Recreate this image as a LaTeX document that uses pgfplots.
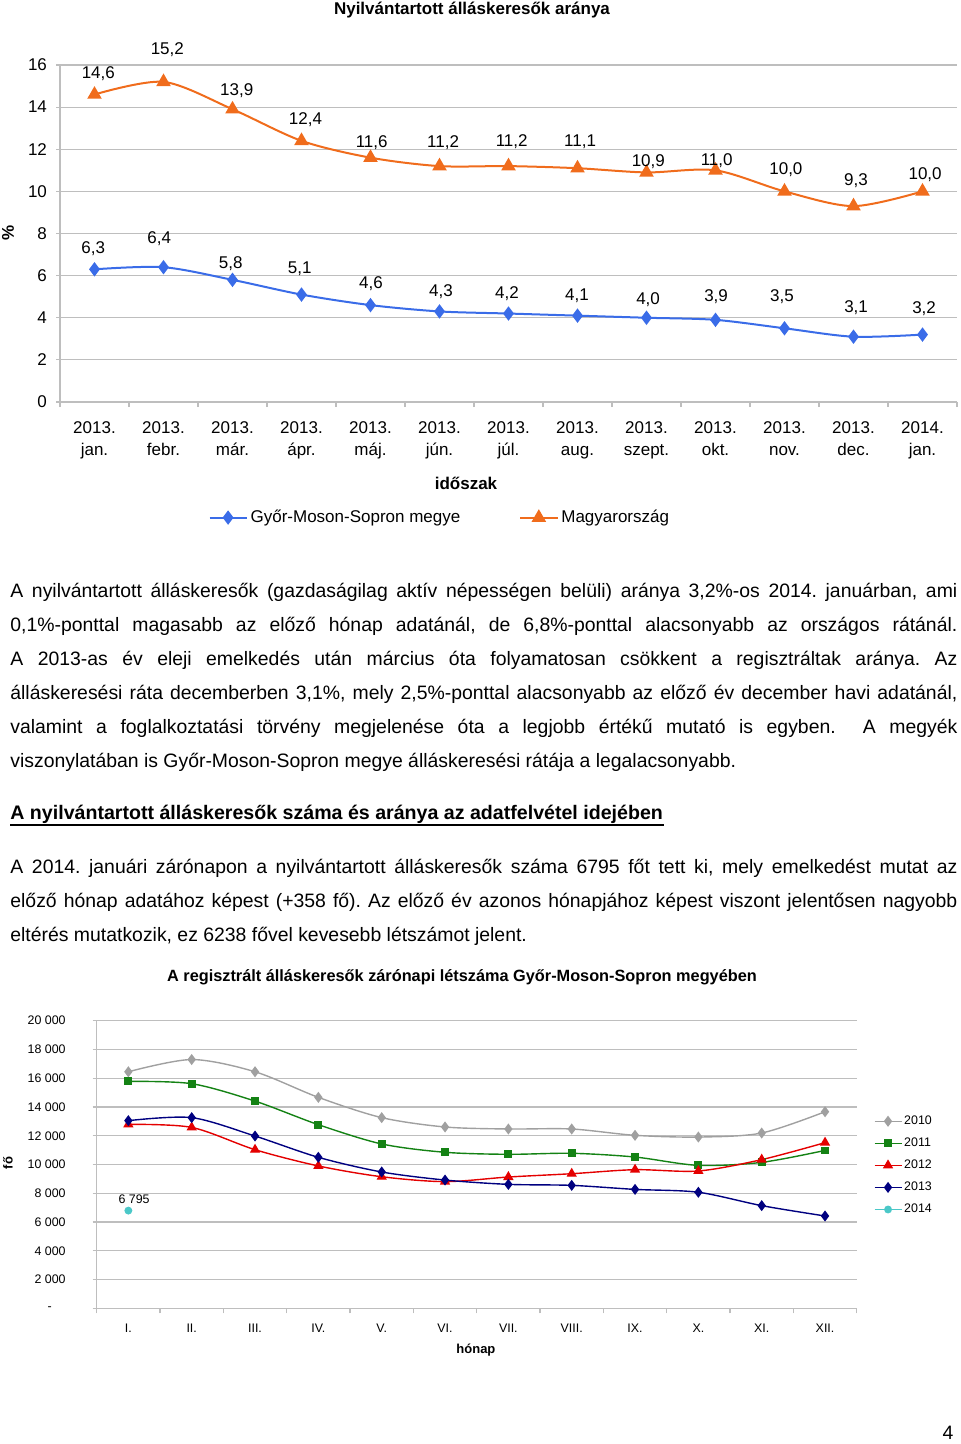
\documentclass[border=0pt]{standalone}
\usepackage{fontspec}
\setmainfont{Liberation Sans}
\usepackage{pgfplots}
\pgfplotsset{compat=1.18}
\usepackage{pgfplotstable}
\frenchspacing
\definecolor{gblue}{RGB}{58,108,232}
\definecolor{horange}{RGB}{240,108,28}
\definecolor{gridgray}{RGB}{190,190,190}
\definecolor{c10}{RGB}{160,160,160}
\definecolor{c11}{RGB}{20,130,20}
\definecolor{c12}{RGB}{228,0,0}
\definecolor{c13}{RGB}{0,0,128}
\definecolor{c14}{RGB}{75,200,200}

\pgfplotstableread{
x y dy dx lbl
0 6.3 10.5 -0.6 6,3
1 6.4 14.1 -2.1 6,4
2 5.8 8.3 -0.9 5,8
3 5.1 12.7 -0.9 5,1
4 4.6 10.9 0.2 4,6
5 4.3 9.9 0.7 4,3
6 4.2 9.8 -0.8 4,2
7 4.1 9.9 -0.3 4,1
8 4.0 8.9 0.8 4,0
9 3.9 11.5 0.3 3,9
10 3.5 15.7 -1.3 3,5
11 3.1 14.4 1.3 3,1
12 3.2 12.8 0.8 3,2
}\tabGY

\pgfplotstableread{
x y dy dx lbl
0 14.6 10.6 1.9 14,6
1 15.2 16.0 1.9 15,2
2 13.9 9.3 2.1 13,9
3 12.4 10.5 2.0 12,4
4 11.6 7.7 0.6 11,6
5 11.2 11.9 1.8 11,2
6 11.2 12.2 1.6 11,2
7 11.1 13.3 1.3 11,1
8 10.9 5.4 0.9 10,9
9 11.0 4.7 0.6 11,0
10 10.0 10.7 0.7 10,0
11 9.3 12.7 1.2 9,3
12 10.0 8.2 1.3 10,0
}\tabHU

\pgfplotstableread{
m y10 y11 y12 y13
1 16450 15780 12790 13050
2 17300 15620 12580 13260
3 16450 14410 11030 11980
4 14670 12770 9900 10500
5 13260 11430 9150 9480
6 12610 10850 8810 8920
7 12470 10710 9130 8620
8 12470 10780 9360 8550
9 12030 10520 9640 8270
10 11910 9940 9550 8070
11 12190 10150 10340 7140
12 13670 10980 11520 6420
}\tabCnt

\begin{document}
\begin{tikzpicture}
\useasboundingbox (0,0) rectangle (480pt,-722pt);

% ---------- Chart 1 ----------
\node[font=\fontsize{8.5}{10}\selectfont\bfseries, anchor=base, inner sep=0] at (236pt,-7.5pt) {Nyilvántartott álláskeresők aránya};

\begin{axis}[
  at={(30pt,-201pt)}, anchor=south west,
  scale only axis, width=448.5pt, height=168.5pt,
  xmin=-0.5, xmax=12.5, ymin=0, ymax=16,
  ytick={0,2,...,16}, xtick={0,...,12},
  xticklabels={{2013.\\jan.},{2013.\\febr.},{2013.\\már.},{2013.\\ápr.},{2013.\\máj.},{2013.\\jún.},{2013.\\júl.},{2013.\\aug.},{2013.\\szept.},{2013.\\okt.},{2013.\\nov.},{2013.\\dec.},{2014.\\jan.}},
  xticklabel style={align=center, font=\fontsize{8.5}{11}\selectfont, yshift=-4.5pt},
  yticklabel style={font=\fontsize{8.5}{10}\selectfont, xshift=-1pt},
  /pgf/number format/assume math mode=true,
  axis x line*=bottom, axis y line*=left,
  axis line style={draw=gridgray, line width=0.6pt, -},
  ymajorgrids, grid style={draw=gridgray, line width=0.6pt},
  tick align=outside, major tick length=2pt,
  major x tick style={draw=none},
  ytick style={draw=gridgray, line width=0.6pt},
  minor xtick={-0.5,0.5,...,12.5}, minor tick length=2.5pt,
  minor x tick style={draw=gridgray, line width=0.6pt},
  xlabel={időszak}, xlabel style={at={(axis description cs:0.4526,-0.2404)}, anchor=center, font=\fontsize{8.5}{10}\selectfont\bfseries},
  ylabel={\%}, ylabel style={at={(axis description cs:-0.058,0.5015)}, anchor=center, rotate=0, font=\fontsize{8.5}{10}\selectfont\bfseries},
  legend columns=2,
  legend style={at={(axis description cs:0.424,-0.343)}, anchor=center, draw=none, fill=none,
    font=\fontsize{8.5}{10}\selectfont, /tikz/every even column/.append style={column sep=28pt},
    nodes={inner sep=1.5pt}},
  legend image code/.code={\draw[mark repeat=2, mark phase=2] plot coordinates {(0pt,0pt) (9.25pt,0pt) (18.5pt,0pt)};},
  every node near coord/.append style={font=\fontsize{8.5}{10}\selectfont, text=black, anchor=center},
]
\addplot[smooth, color=gblue, line width=1pt, mark=diamond*, mark size=2.8pt, mark options={fill=gblue},
  nodes near coords, point meta=explicit symbolic,
  visualization depends on={\thisrow{dy} \as \lbldy},
  visualization depends on={\thisrow{dx} \as \lbldx},
  nodes near coords style={xshift=\lbldx, yshift=\lbldy}]
  table[x=x, y=y, meta=lbl]{\tabGY};
\addlegendentry{Győr-Moson-Sopron megye}
\addplot[smooth, color=horange, line width=1pt, mark=triangle*, mark size=3.2pt, mark options={fill=horange},
  nodes near coords, point meta=explicit symbolic,
  visualization depends on={\thisrow{dy} \as \lbldy},
  visualization depends on={\thisrow{dx} \as \lbldx},
  nodes near coords style={xshift=\lbldx, yshift=\lbldy}]
  table[x=x, y=y, meta=lbl]{\tabHU};
\addlegendentry{Magyarország}
\end{axis}

% ---------- Text ----------
\node[anchor=base west, inner sep=0, text width=473.5pt, align=justify,
      font=\fontsize{9.7}{17}\selectfont] at (5pt,-298.5pt)
{A nyilvántartott álláskeresők (gazdaságilag aktív népességen belüli) aránya 3,2\%-os 2014. januárban, ami\linebreak
0,1\%-ponttal magasabb az előző hónap adatánál, de 6,8\%-ponttal alacsonyabb az országos rátánál.\linebreak
A 2013-as év eleji emelkedés után március óta folyamatosan csökkent a regisztráltak aránya. Az\linebreak
álláskeresési ráta decemberben 3,1\%, mely 2,5\%-ponttal alacsonyabb az előző év december havi adatánál,\linebreak
valamint a foglalkoztatási törvény megjelenése óta a legjobb értékű mutató is egyben.\ \ A megyék\linebreak
viszonylatában is Győr-Moson-Sopron megye álláskeresési rátája a legalacsonyabb.};

\node[anchor=base west, inner sep=0, font=\fontsize{9.8}{12}\selectfont\bfseries] at (5pt,-409.5pt)
{A nyilvántartott álláskeresők száma és aránya az adatfelvétel idejében};
\draw[line width=0.9pt] (5pt,-412.3pt) -- (332pt,-412.3pt);

\node[anchor=base west, inner sep=0, text width=473.5pt, align=justify,
      font=\fontsize{9.7}{17}\selectfont] at (5pt,-436.5pt)
{A 2014. januári zárónapon a nyilvántartott álláskeresők száma 6795 főt tett ki, mely emelkedést mutat az\linebreak
előző hónap adatához képest (+358 fő). Az előző év azonos hónapjához képest viszont jelentősen nagyobb\linebreak
eltérés mutatkozik, ez 6238 fővel kevesebb létszámot jelent.};

% ---------- Chart 2 ----------
\node[font=\fontsize{8.15}{9}\selectfont\bfseries, anchor=base, inner sep=0] at (231pt,-490.8pt)
{A regisztrált álláskeresők zárónapi létszáma Győr-Moson-Sopron megyében};

\begin{axis}[
  at={(48.35pt,-654.15pt)}, anchor=south west,
  scale only axis, width=380pt, height=143.8pt,
  xmin=0.5, xmax=12.5, ymin=0, ymax=20000,
  ytick={0,2000,...,20000}, scaled y ticks=false,
  yticklabels={{\makebox[9pt][l]{-}},2 000,4 000,6 000,8 000,10 000,12 000,14 000,16 000,18 000,20 000},
  xtick={1,...,12},
  xticklabels={I.,II.,III.,IV.,V.,VI.,VII.,VIII.,IX.,X.,XI.,XII.},
  xticklabel style={font=\fontsize{6.2}{7}\selectfont, yshift=-2.5pt},
  yticklabel style={font=\fontsize{6.2}{7}\selectfont, xshift=-10pt},
  axis x line*=bottom, axis y line*=left,
  axis line style={draw=gridgray, line width=0.6pt, -},
  ymajorgrids, grid style={draw=gridgray, line width=0.6pt},
  tick align=outside, major tick length=2pt,
  major x tick style={draw=none},
  ytick style={draw=gridgray, line width=0.6pt},
  minor xtick={0.5,1.5,...,12.5}, minor tick length=2.5pt,
  minor x tick style={draw=gridgray, line width=0.6pt},
  xlabel={hónap}, xlabel style={at={(axis description cs:0.499,-0.145)}, anchor=center, font=\fontsize{6.5}{8}\selectfont\bfseries},
  ylabel={fő}, ylabel style={at={(axis description cs:-0.1167,0.505)}, anchor=center, font=\fontsize{6.5}{8}\selectfont\bfseries},
  legend cell align=left,
  legend style={at={(axis description cs:1.062,0.497)}, anchor=center, draw=none, fill=none,
    font=\fontsize{6.2}{7}\selectfont, row sep=3.2pt, nodes={inner sep=1pt}},
  legend image code/.code={\draw[mark repeat=2, mark phase=2] plot coordinates {(0pt,0pt) (6.75pt,0pt) (13.5pt,0pt)};},
]
\addplot[smooth, color=c10, line width=0.7pt, mark=diamond*, mark size=2.2pt, mark options={fill=c10}] table[x=m, y=y10]{\tabCnt};
\addlegendentry{2010}
\addplot[smooth, color=c11, line width=0.7pt, mark=square*, mark size=1.6pt, mark options={fill=c11}] table[x=m, y=y11]{\tabCnt};
\addlegendentry{2011}
\addplot[smooth, color=c12, line width=0.7pt, mark=triangle*, mark size=2.3pt, mark options={fill=c12}] table[x=m, y=y12]{\tabCnt};
\addlegendentry{2012}
\addplot[smooth, color=c13, line width=0.7pt, mark=diamond*, mark size=2.2pt, mark options={fill=c13}] table[x=m, y=y13]{\tabCnt};
\addlegendentry{2013}
\addplot[color=c14, line width=0.7pt, mark=*, mark size=1.6pt, mark options={fill=c14},
  nodes near coords={6 795},
  every node near coord/.append style={font=\fontsize{6.2}{7}\selectfont, text=black, anchor=center, xshift=2.85pt, yshift=5.8pt}]
  coordinates {(1,6795)};
\addlegendentry{2014}
\end{axis}

\node[anchor=base, inner sep=0, font=\fontsize{9.7}{12}\selectfont] at (474pt,-719.5pt) {4};
\end{tikzpicture}
\end{document}
